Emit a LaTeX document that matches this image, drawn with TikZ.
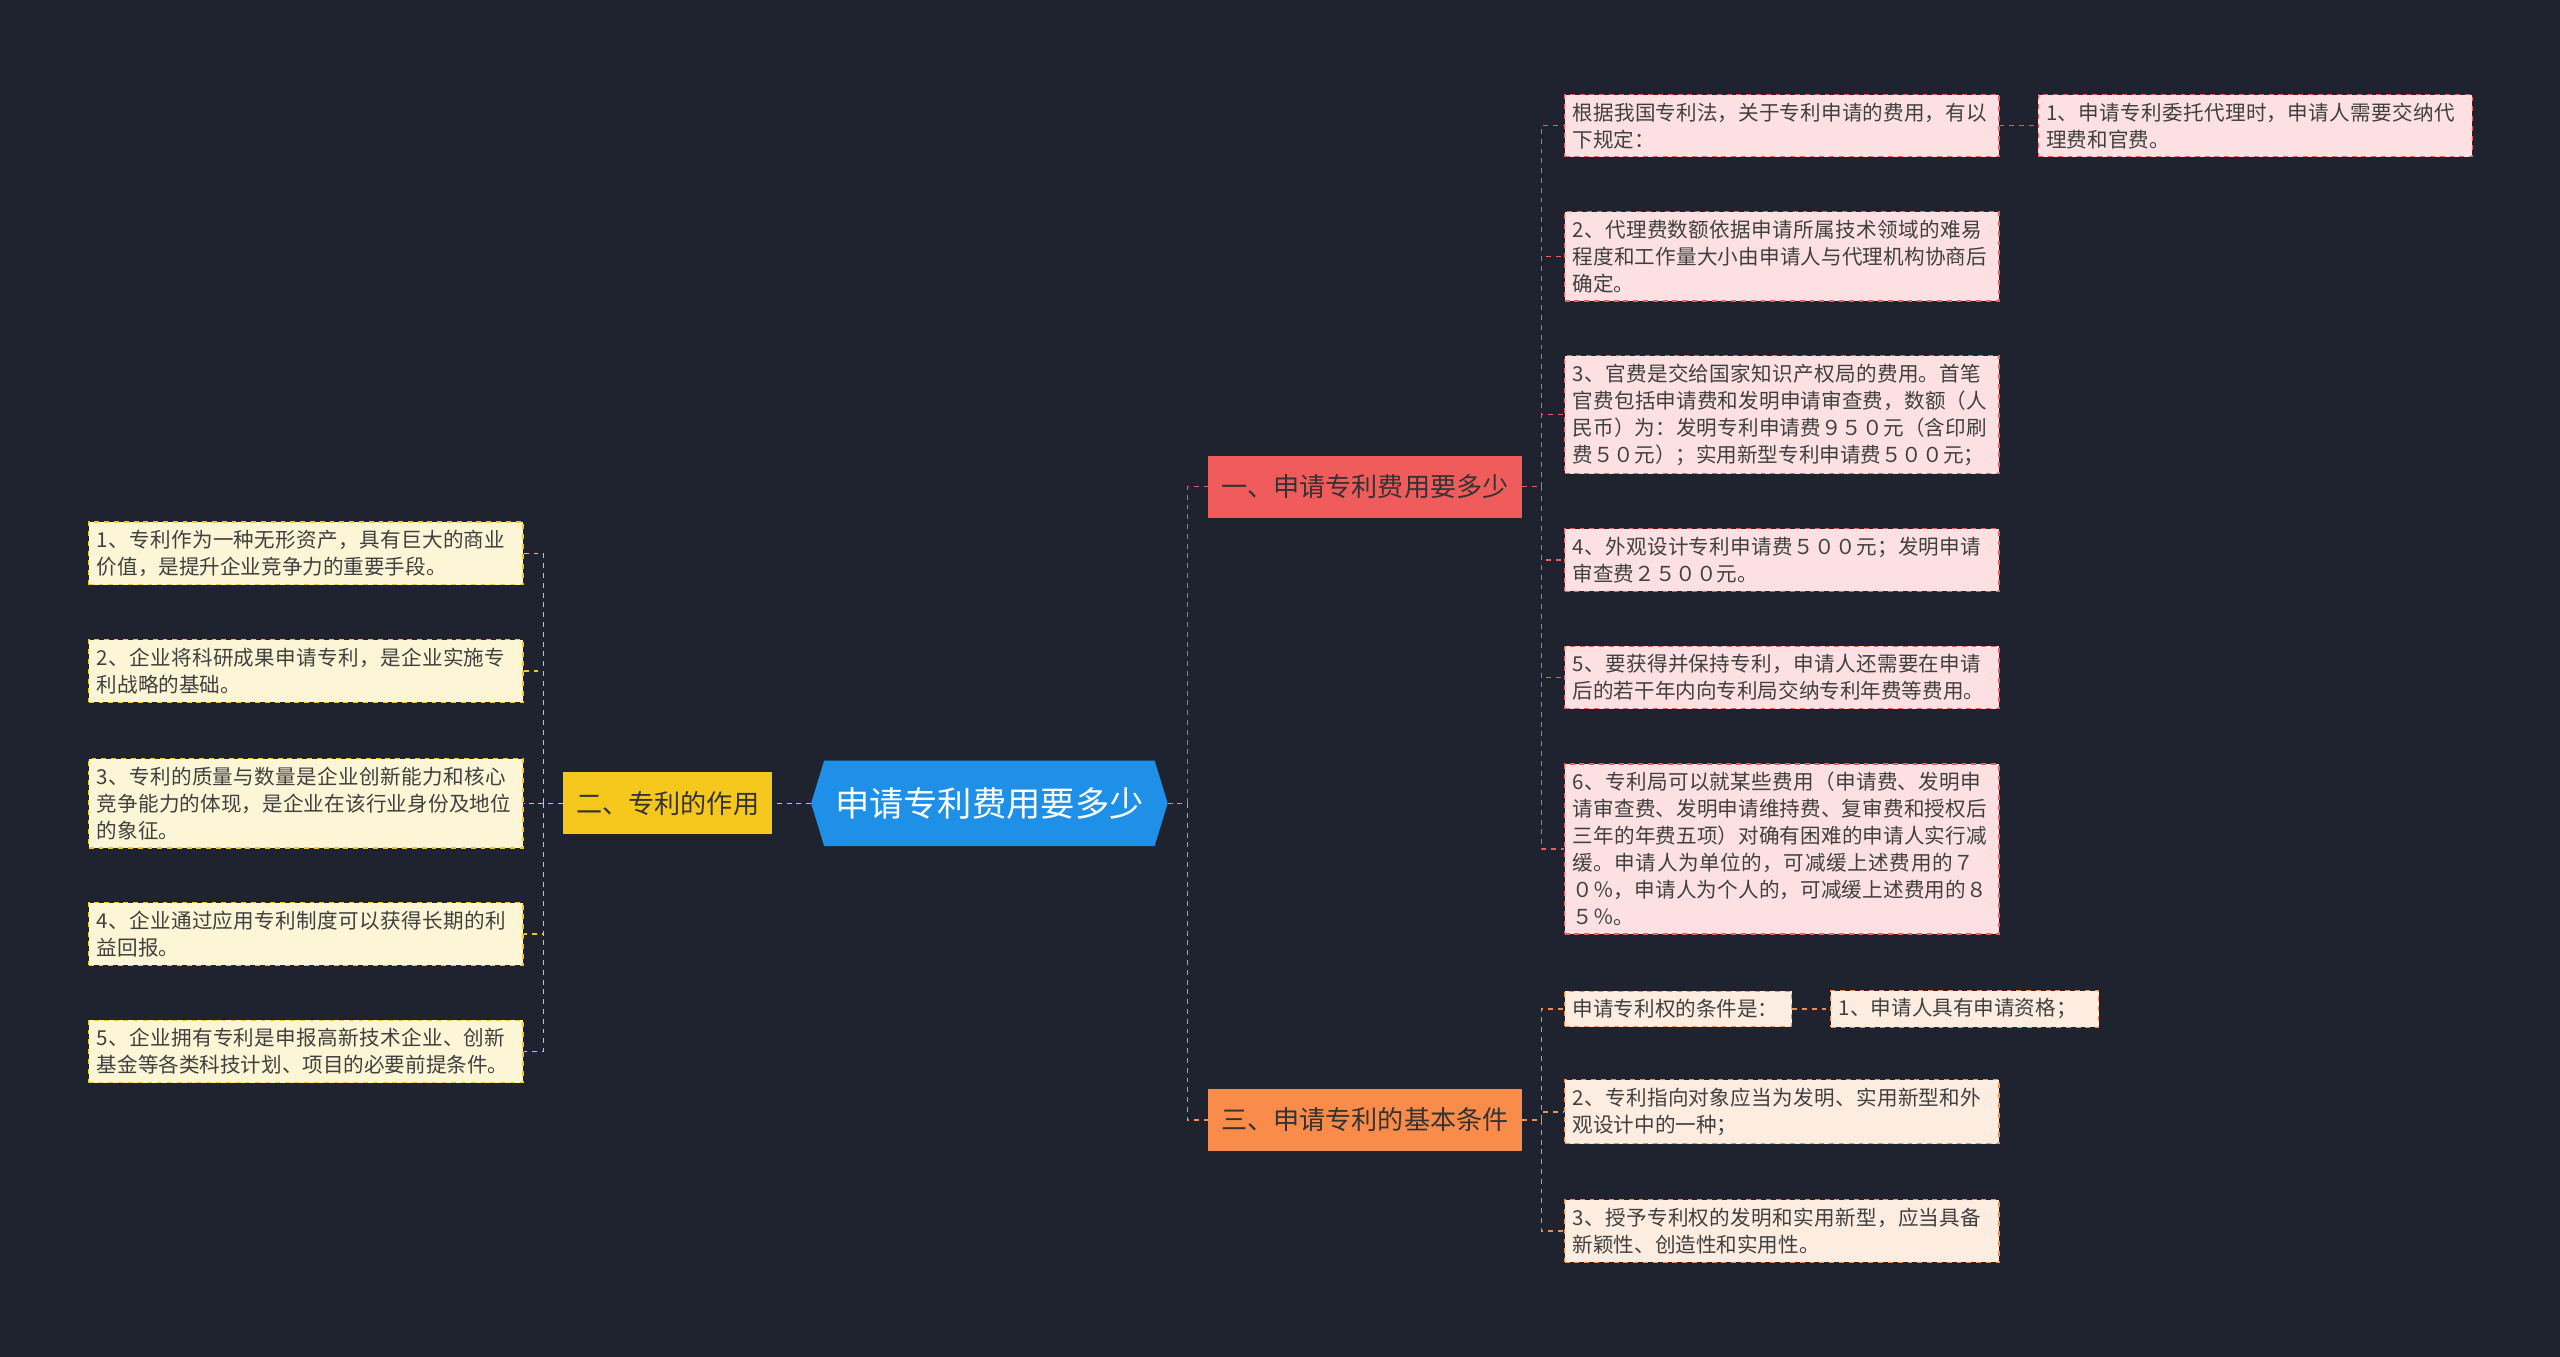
\documentclass[tikz,border=0pt]{standalone}
\usepackage{fontspec}
\setmainfont{Noto Sans CJK SC}
\XeTeXlinebreaklocale "zh"
\XeTeXlinebreakskip=0pt plus 1pt
\definecolor{bgc}{HTML}{1F2330}
\definecolor{rootc}{HTML}{1E90E8}
\definecolor{redc}{HTML}{F05B5B}
\definecolor{orgc}{HTML}{FA8C4B}
\definecolor{yelc}{HTML}{F6C81E}
\definecolor{pinkl}{HTML}{FDE1E2}
\definecolor{orgl}{HTML}{FDECE0}
\definecolor{yell}{HTML}{FDF6D6}
\tikzset{
  leaf/.style={anchor=west, text width=#1, align=left, inner sep=5pt,
    font=\fontsize{12.6}{16.5}\selectfont, text=black!75, dashed, line width=0.7pt},
  leaf/.default=256pt,
  pinkleaf/.style={leaf=#1, fill=pinkl, draw=redc},
  pinkleaf/.default=256pt,
  orgleaf/.style={leaf=#1, fill=orgl, draw=orgc},
  orgleaf/.default=256pt,
  yelleaf/.style={leaf=#1, fill=yell, draw=yelc},
  yelleaf/.default=256pt,
  branch/.style={minimum height=38pt, inner xsep=8pt, font=\fontsize{16}{19}\selectfont, text=black!80},
  link/.style={dashed, line width=0.9pt}
}
\begin{document}
\begin{tikzpicture}[x=1pt, y=-1pt]
    \fill[bgc] (0,0) rectangle (1568,831);
    \useasboundingbox (0,0) rectangle (1568,831);

    \coordinate (rc) at (606,492);
    \node[minimum width=218pt, minimum height=52pt, inner sep=0pt] (root) at (rc) {};
    \fill[rootc] (root.west) -- ([xshift=8pt]root.north west) -- ([xshift=-8pt]root.north east)
      -- (root.east) -- ([xshift=-8pt]root.south east) -- ([xshift=8pt]root.south west) -- cycle;
    \node[text=white, font=\fontsize{21}{24}\selectfont] (roottext) at (rc) {申请专利费用要多少};

    \node[branch, fill=redc] (fee) at (836,298) {一、申请专利费用要多少};
    \node[branch, fill=orgc] (cond) at (836,686) {三、申请专利的基本条件};
    \node[branch, fill=yelc] (role) at (409,492) {二、专利的作用};

    % branch one
    \node[pinkleaf] (f0) at (958,77) {根据我国专利法，关于专利申请的费用，有以下规定：};
    \node[pinkleaf] (f0a) at (1248,77) {1、申请专利委托代理时，申请人需要交纳代理费和官费。};
    \node[pinkleaf] (f2) at (958,157) {2、代理费数额依据申请所属技术领域的难易程度和工作量大小由申请人与代理机构协商后确定。};
    \node[pinkleaf] (f3) at (958,254) {3、官费是交给国家知识产权局的费用。首笔官费包括申请费和发明申请审查费，数额（人民币）为：发明专利申请费９５０元（含印刷费５０元）；实用新型专利申请费５００元；};
    \node[pinkleaf] (f4) at (958,343) {4、外观设计专利申请费５００元；发明申请审查费２５００元。};
    \node[pinkleaf] (f5) at (958,415) {5、要获得并保持专利，申请人还需要在申请后的若干年内向专利局交纳专利年费等费用。};
    \node[pinkleaf] (f6) at (958,520) {6、专利局可以就某些费用（申请费、发明申请审查费、发明申请维持费、复审费和授权后三年的年费五项）对确有困难的申请人实行减缓。申请人为单位的，可减缓上述费用的７０％，申请人为个人的，可减缓上述费用的８５％。};

    % branch three
    \node[orgleaf=129pt] (c0) at (958,618) {申请专利权的条件是：};
    \node[orgleaf=154pt] (c0a) at (1121,618) {1、申请人具有申请资格；};
    \node[orgleaf] (c2) at (958,681) {2、专利指向对象应当为发明、实用新型和外观设计中的一种；};
    \node[orgleaf] (c3) at (958,754) {3、授予专利权的发明和实用新型，应当具备新颖性、创造性和实用性。};

    % branch two
    \node[yelleaf] (r1) at (54,339) {1、专利作为一种无形资产，具有巨大的商业价值，是提升企业竞争力的重要手段。};
    \node[yelleaf] (r2) at (54,411) {2、企业将科研成果申请专利，是企业实施专利战略的基础。};
    \node[yelleaf] (r3) at (54,492) {3、专利的质量与数量是企业创新能力和核心竞争能力的体现，是企业在该行业身份及地位的象征。};
    \node[yelleaf] (r4) at (54,572) {4、企业通过应用专利制度可以获得长期的利益回报。};
    \node[yelleaf] (r5) at (54,644) {5、企业拥有专利是申报高新技术企业、创新基金等各类科技计划、项目的必要前提条件。};

    % connectors
    \draw[link, redc] (root.east) -- ++(12,0) |- (fee.west);
    \draw[link, orgc] (root.east) -- ++(12,0) |- (cond.west);
    \draw[link, yelc] (root.west) -- (role.east);
    \foreach \n in {f0,f2,f3,f4,f5,f6}
      \draw[link, redc] (fee.east) -- ++(12,0) |- (\n.west);
    \draw[link, redc] (f0.east) -- (f0a.west);
    \foreach \n in {c0,c2,c3}
      \draw[link, orgc] (cond.east) -- ++(12,0) |- (\n.west);
    \draw[link, orgc] (c0.east) -- (c0a.west);
    \foreach \n in {r1,r2,r3,r4,r5}
      \draw[link, yelc] (role.west) -- ++(-12,0) |- (\n.east);
\end{tikzpicture}
\end{document}
